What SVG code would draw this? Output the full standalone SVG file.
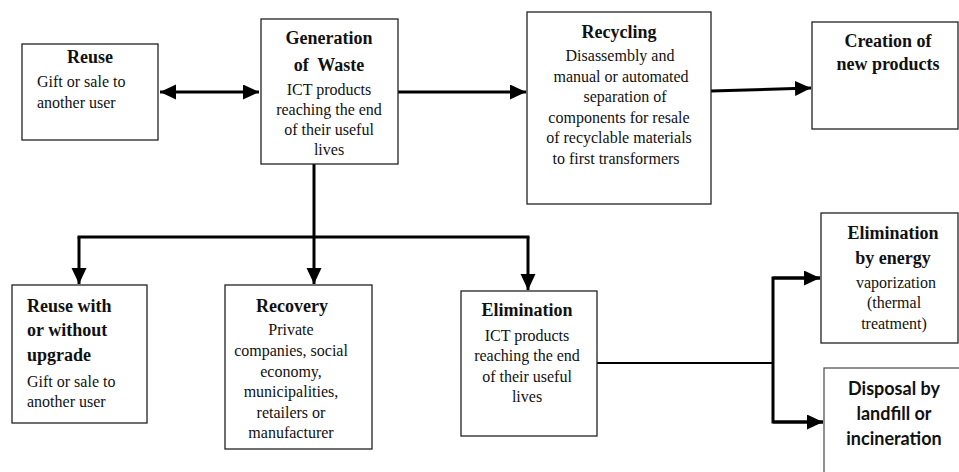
<svg xmlns="http://www.w3.org/2000/svg" width="959" height="472" viewBox="0 0 959 472">
<style>
  .box { fill: #ffffff; stroke: #222222; stroke-width: 1.3; }
  .t { font-family: "Liberation Serif", "Times New Roman", serif; font-size: 16px; fill: #111111; }
  .b { font-family: "Liberation Serif", "Times New Roman", serif; font-size: 18px; font-weight: bold; fill: #111111; }
  .s { font-family: Lato, "Liberation Sans", sans-serif; font-size: 18px; font-weight: bold; fill: #111111; }
  .c { text-anchor: middle; }
  .con { fill: none; stroke: #000000; stroke-width: 3; }
  .thin { fill: none; stroke: #000000; stroke-width: 2; }
</style>
<defs>
  <marker id="ah" markerUnits="userSpaceOnUse" markerWidth="17" markerHeight="16" refX="16" refY="7.5" orient="auto-start-reverse">
    <path d="M0,0 L16,7.5 L0,15 z" fill="#000000"/>
  </marker>
</defs>
<rect width="959" height="472" fill="#ffffff"/>

<g id="connectors">
  <line class="con" x1="160" y1="92" x2="259" y2="92" marker-start="url(#ah)" marker-end="url(#ah)"/>
  <line class="con" x1="398" y1="92" x2="526" y2="92" marker-end="url(#ah)"/>
  <line class="con" x1="711" y1="91" x2="811" y2="88" marker-end="url(#ah)"/>
  <line class="con" x1="314" y1="164" x2="314" y2="237"/>
  <line class="con" x1="77.5" y1="237" x2="529.5" y2="237"/>
  <line class="con" x1="79" y1="237" x2="79" y2="284" marker-end="url(#ah)"/>
  <line class="con" x1="314" y1="237" x2="314" y2="284" marker-end="url(#ah)"/>
  <line class="con" x1="528" y1="237" x2="528" y2="290" marker-end="url(#ah)"/>
  <line class="thin" x1="597" y1="363" x2="773" y2="363"/>
  <polyline class="con" points="820,278 773,278 773,422 823,422"/>
  <line class="con" x1="773" y1="278" x2="820" y2="278" marker-end="url(#ah)"/>
  <line class="con" x1="773" y1="422" x2="823" y2="422" marker-end="url(#ah)"/>
</g>

<g id="reuse">
  <rect class="box" x="22" y="44" width="136" height="96"/>
  <text class="b c" x="90" y="63">Reuse</text>
  <text class="t" x="37" y="87">Gift or sale to</text>
  <text class="t" x="37" y="108">another user</text>
</g>

<g id="generation">
  <rect class="box" x="261" y="19" width="137" height="145"/>
  <text class="b c" x="329" y="44">Generation</text>
  <text class="b c" x="329" y="71" xml:space="preserve">of  Waste</text>
  <text class="t c" x="329" y="95">ICT products</text>
  <text class="t c" x="329" y="115">reaching the end</text>
  <text class="t c" x="329" y="135">of their useful</text>
  <text class="t c" x="329" y="155">lives</text>
</g>

<g id="recycling">
  <rect class="box" x="527" y="12" width="184" height="192"/>
  <text class="b c" x="619" y="38">Recycling</text>
  <text class="t c" x="620" y="61">Disassembly and</text>
  <text class="t c" x="621" y="82">manual or automated</text>
  <text class="t c" x="625" y="102">separation of</text>
  <text class="t c" x="619" y="123">components for resale</text>
  <text class="t c" x="619" y="143">of recyclable materials</text>
  <text class="t c" x="616" y="164">to first transformers</text>
</g>

<g id="creation">
  <rect class="box" x="812" y="22" width="146" height="107"/>
  <text class="b c" x="888" y="47">Creation of</text>
  <text class="b c" x="888" y="70">new products</text>
</g>

<g id="reuse-upgrade">
  <rect class="box" x="12" y="285" width="135" height="138"/>
  <text class="b" x="27" y="312">Reuse with</text>
  <text class="b" x="27" y="336">or without</text>
  <text class="b" x="27" y="361">upgrade</text>
  <text class="t" x="27" y="387">Gift or sale to</text>
  <text class="t" x="27" y="407">another user</text>
</g>

<g id="recovery">
  <rect class="box" x="225" y="285" width="147" height="164"/>
  <text class="b c" x="292" y="312">Recovery</text>
  <text class="t c" x="291" y="335">Private</text>
  <text class="t c" x="291" y="356">companies, social</text>
  <text class="t c" x="291" y="377">economy,</text>
  <text class="t c" x="291" y="397">municipalities,</text>
  <text class="t c" x="291" y="418">retailers or</text>
  <text class="t c" x="291" y="438">manufacturer</text>
</g>

<g id="elimination">
  <rect class="box" x="461" y="291" width="136" height="145"/>
  <text class="b c" x="527" y="316">Elimination</text>
  <text class="t c" x="527" y="341">ICT products</text>
  <text class="t c" x="527" y="361">reaching the end</text>
  <text class="t c" x="527" y="382">of their useful</text>
  <text class="t c" x="527" y="402">lives</text>
</g>

<g id="elimination-energy">
  <rect class="box" x="821" y="213" width="137" height="130"/>
  <text class="b c" x="893" y="239">Elimination</text>
  <text class="b c" x="893" y="264">by energy</text>
  <text class="t c" x="896" y="288">vaporization</text>
  <text class="t c" x="894" y="308">(thermal</text>
  <text class="t c" x="894" y="329">treatment)</text>
</g>

<g id="disposal">
  <rect x="824" y="368" width="150" height="120" fill="#ffffff" stroke="#555555" stroke-width="1.3"/>
  <text class="s c" x="894" y="395">Disposal by</text>
  <text class="s c" x="894" y="420">landfill or</text>
  <text class="s c" x="894" y="445">incineration</text>
</g>
</svg>
